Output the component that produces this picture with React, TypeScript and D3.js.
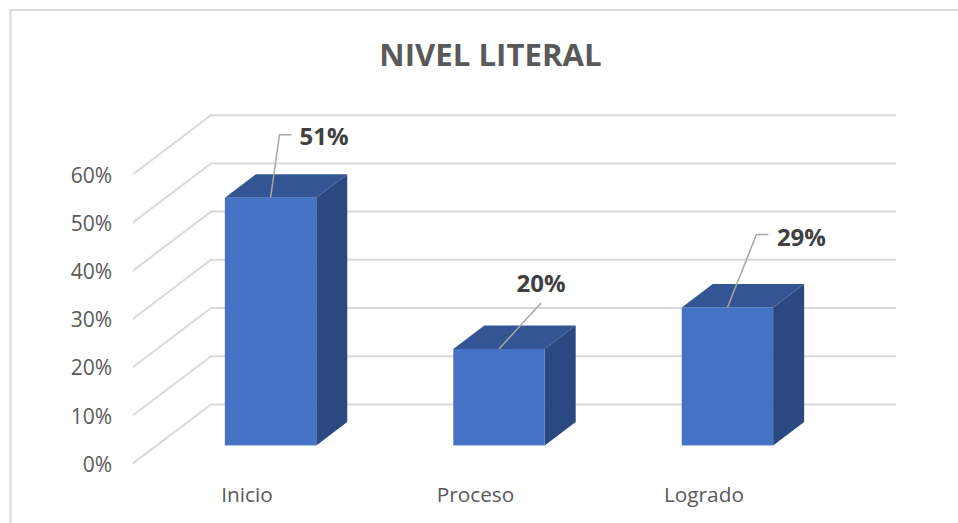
import { useEffect, useRef } from "react";
import * as d3 from "d3";

const categories = ["Inicio", "Proceso", "Logrado"];
const values = [51.4, 20, 28.6];
const labels = ["51%", "20%", "29%"];
const ticks = [0, 10, 20, 30, 40, 50, 60];

const width = 958;
const height = 523;
const depthX = 78;
const depthY = 59;
const barDepthX = 31;
const barDepthY = 23.5;
const font = "'Open Sans', sans-serif";

export default function App() {
  const svgRef = useRef<SVGSVGElement>(null);

  useEffect(() => {
    if (!svgRef.current) return;
    const svg = d3.select(svgRef.current);
    svg.selectAll("*").remove();

    // front plane of the fake 3d box
    const y = d3.scaleLinear().domain([0, 60]).range([463.4, 174.2]);
    const x = d3.scaleBand().domain(categories).range([133.5, 864.5]).paddingInner(0.6).paddingOuter(0.4);
    const barBase = 445.4;
    const unit = y(0) - y(1);
    const barTop = (i: number) => barBase - values[i] * unit;

    svg.append("rect").attr("width", width).attr("height", height).attr("fill", "#fff");

    // outer frame
    svg.append("path")
      .attr("d", d3.line()([[10.5, height], [10.5, 10], [width, 10]]))
      .attr("fill", "none")
      .attr("stroke", "#d9d9d9")
      .attr("stroke-width", 2);

    svg.append("text")
      .attr("x", 490.5)
      .attr("y", 66)
      .attr("text-anchor", "middle")
      .attr("font-family", font)
      .attr("font-size", 31.2)
      .attr("font-weight", 700)
      .attr("fill", "#595959")
      .text("NIVEL LITERAL");

    // gridlines
    svg.selectAll(".grid")
      .data(ticks)
      .join("path")
      .attr("class", "grid")
      .attr("d", (d) => d3.line()([[133, y(d)], [133 + depthX, y(d) - depthY], [896, y(d) - depthY]]))
      .attr("fill", "none")
      .attr("stroke", "#d9d9d9")
      .attr("stroke-width", 2);

    svg.selectAll(".tick")
      .data(ticks)
      .join("text")
      .attr("class", "tick")
      .attr("x", 112)
      .attr("y", (d) => y(d) + 8.4)
      .attr("text-anchor", "end")
      .attr("font-family", font)
      .attr("font-size", 21)
      .attr("fill", "#595959")
      .text((d) => `${d}%`);

    const bars = svg.selectAll(".bar").data(categories).join("g").attr("class", "bar");

    // top
    bars.append("path")
      .attr("d", (d, i) => {
        const l = x(d)!;
        const r = l + x.bandwidth();
        const t = barTop(i);
        return d3.line()([[l, t], [l + barDepthX, t - barDepthY], [r + barDepthX, t - barDepthY], [r, t]]) + "Z";
      })
      .attr("fill", "#335593");

    // side
    bars.append("path")
      .attr("d", (d, i) => {
        const r = x(d)! + x.bandwidth();
        const t = barTop(i);
        return d3.line()([[r, t], [r + barDepthX, t - barDepthY], [r + barDepthX, barBase - barDepthY], [r, barBase]]) + "Z";
      })
      .attr("fill", "#2a4980");

    // front
    bars.append("rect")
      .attr("x", (d) => x(d)!)
      .attr("y", (_, i) => barTop(i))
      .attr("width", x.bandwidth())
      .attr("height", (_, i) => values[i] * unit)
      .attr("fill", "#4472c4");

    svg.selectAll(".cat")
      .data(categories)
      .join("text")
      .attr("class", "cat")
      .attr("x", (d) => x(d)! + x.bandwidth() / 2 - 23.5)
      .attr("y", 501.5)
      .attr("text-anchor", "middle")
      .attr("font-family", font)
      .attr("font-size", 20.8)
      .attr("fill", "#595959")
      .text((d) => d);

    // data labels with leader lines, offsets are from the middle of the bar top
    const leaders: [number, number][][] = [
      [[9, -63], [21, -63]],
      [[42, -46]],
      [[29, -73], [41, -73]],
    ];
    const labelDx = [53.5, 42, 74];
    const labelDy = [-52.5, -57, -62];

    bars.each(function (d, i) {
      const g = d3.select(this);
      const cx = x(d)! + x.bandwidth() / 2;
      const t = barTop(i);
      const pts: [number, number][] = [[cx, t], ...leaders[i].map(([dx, dy]) => [cx + dx, t + dy] as [number, number])];
      g.append("path")
        .attr("d", d3.line()(pts))
        .attr("fill", "none")
        .attr("stroke", "#a6a6a6")
        .attr("stroke-width", 1.5);
      g.append("text")
        .attr("x", cx + labelDx[i])
        .attr("y", t + labelDy[i])
        .attr("text-anchor", "middle")
        .attr("font-family", font)
        .attr("font-size", 24)
        .attr("font-weight", 700)
        .attr("fill", "#404040")
        .text(labels[i]);
    });
  }, []);

  return <svg ref={svgRef} width={width} height={height} viewBox={`0 0 ${width} ${height}`} style={{ position: "absolute", left: 0, top: 0 }} />;
}
